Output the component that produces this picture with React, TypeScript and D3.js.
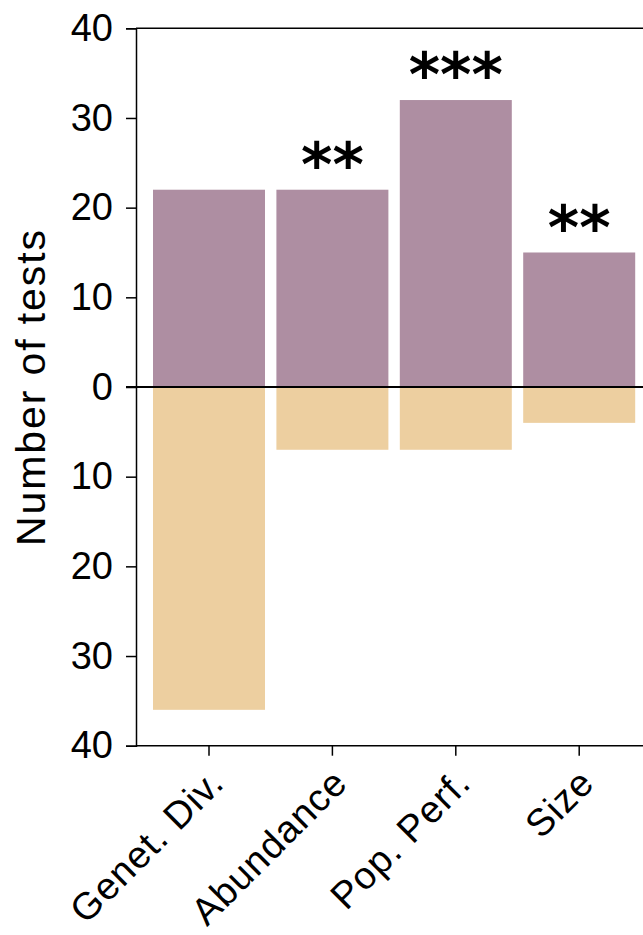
import React, { useEffect, useRef } from "react";
import * as d3 from "d3";

// Counts of tests per response category: positive (above zero) and negative (below zero)
const categories = ["Genet. Div.", "Abundance", "Pop. Perf.", "Size"];
const positiveCounts = [22, 22, 32, 15];
const negativeCounts = [36, 7, 7, 4];
const significance = ["", "**", "***", "**"];
const yTicks = [-40, -30, -20, -10, 0, 10, 20, 30, 40];

const W = 643;
const H = 935;
const FONT = "'Liberation Sans', Arial, Helvetica, sans-serif";
const POS_COLOR = "#ae8ea2";
const NEG_COLOR = "#edcfa0";

export default function App() {
  const ref = useRef<SVGSVGElement | null>(null);

  useEffect(() => {
    const svg = d3.select(ref.current);
    svg.selectAll("*").remove();

    const left = 136;
    const y = d3.scaleLinear().domain([-40, 40]).range([745.7, 28.3]);
    const x = d3
      .scaleBand<string>()
      .domain(categories)
      .range([147.3, 640.9])
      .paddingInner(0.0924)
      .paddingOuter(0.0462);

    const data = categories.map((c, i) => ({
      c,
      pos: positiveCounts[i],
      neg: negativeCounts[i],
      sig: significance[i],
    }));

    // positive bars
    svg
      .append("g")
      .selectAll("rect")
      .data(data)
      .join("rect")
      .attr("x", (d) => x(d.c)!)
      .attr("width", x.bandwidth())
      .attr("y", (d) => y(d.pos))
      .attr("height", (d) => y(0) - y(d.pos))
      .attr("fill", POS_COLOR);

    // negative bars
    svg
      .append("g")
      .selectAll("rect")
      .data(data)
      .join("rect")
      .attr("x", (d) => x(d.c)!)
      .attr("width", x.bandwidth())
      .attr("y", y(0))
      .attr("height", (d) => y(-d.neg) - y(0))
      .attr("fill", NEG_COLOR);

    // top frame line
    svg
      .append("line")
      .attr("x1", left)
      .attr("x2", W)
      .attr("y1", y(40))
      .attr("y2", y(40))
      .attr("stroke", "#000")
      .attr("stroke-width", 1.5);

    // y axis
    const yAxis = d3
      .axisLeft(y)
      .tickValues(yTicks)
      .tickSize(10)
      .tickPadding(13)
      .tickFormat((d) => String(Math.abs(+d)));
    const gy = svg.append("g").attr("transform", `translate(${left},0)`).call(yAxis);
    gy.select(".domain").attr("stroke-width", 1.5);
    gy.selectAll(".tick line").attr("stroke-width", 1.5);
    gy.selectAll(".tick text")
      .attr("font-family", FONT)
      .attr("font-size", 38)
      .attr("fill", "#000");

    // x axis
    const xAxis = d3.axisBottom(x).tickSize(10).tickSizeOuter(0).tickFormat(() => "");
    const gx = svg.append("g").attr("transform", `translate(0,${y(-40)})`).call(xAxis);
    gx.select(".domain").attr("d", `M${left},0H${W}`).attr("stroke-width", 1.5);
    gx.selectAll(".tick line").attr("stroke-width", 1.5);

    // rotated category labels
    svg
      .append("g")
      .selectAll("text")
      .data(data)
      .join("text")
      .attr("transform", (d) => `translate(${x(d.c)! + x.bandwidth() / 2 + 17},${785}) rotate(-45)`)
      .attr("text-anchor", "end")
      .attr("font-family", FONT)
      .attr("font-size", 38)
      .attr("letter-spacing", 1)
      .attr("fill", "#000")
      .text((d) => d.c);

    // zero line
    svg
      .append("line")
      .attr("x1", left - 10)
      .attr("x2", W)
      .attr("y1", y(0))
      .attr("y2", y(0))
      .attr("stroke", "#000")
      .attr("stroke-width", 2.2);

    // significance stars
    svg
      .append("g")
      .selectAll("text")
      .data(data)
      .join("text")
      .attr("x", (d) => x(d.c)! + x.bandwidth() / 2)
      .attr("y", (d) => y(d.pos) - 41)
      .attr("dy", "0.62em")
      .attr("text-anchor", "middle")
      .attr("font-family", "'DejaVu Sans', sans-serif")
      .attr("font-weight", "bold")
      .attr("font-size", 60)
      .attr("fill", "#000")
      .text((d) => d.sig);

    // y axis title
    svg
      .append("text")
      .attr("transform", `translate(45,388) rotate(-90)`)
      .attr("text-anchor", "middle")
      .attr("font-family", FONT)
      .attr("font-size", 41)
      .attr("textLength", 316)
      .attr("lengthAdjust", "spacing")
      .attr("fill", "#000")
      .text("Number of tests");
  }, []);

  return (
    <svg
      ref={ref}
      width={W}
      height={H}
      style={{ position: "absolute", left: 0, top: 0, background: "#fff" }}
    />
  );
}
